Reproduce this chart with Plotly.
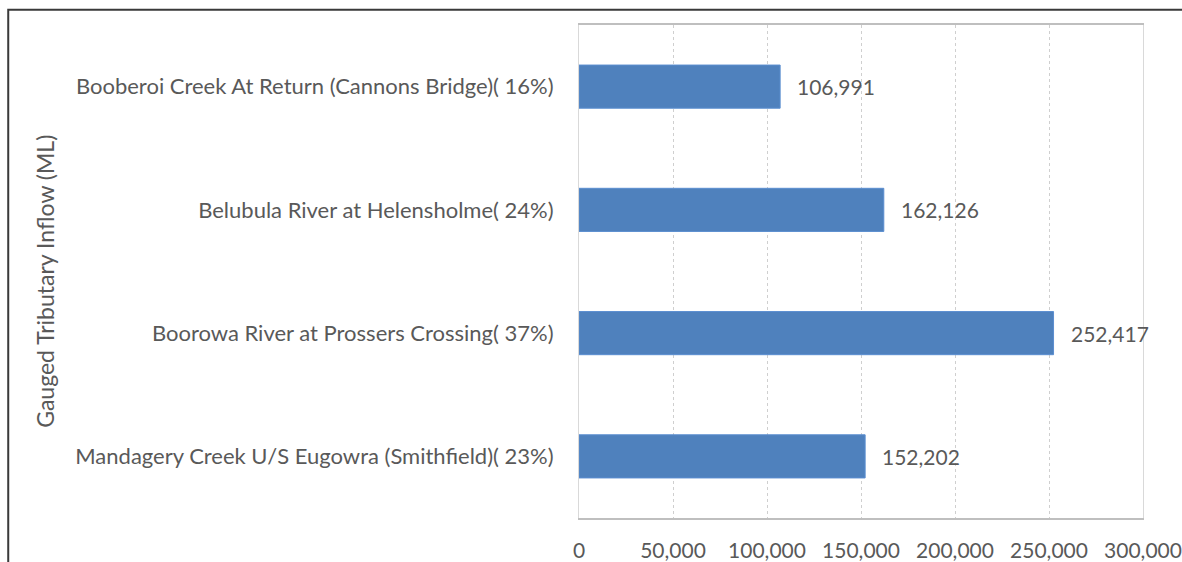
import plotly.graph_objects as go

# categories listed bottom-to-top, like the source chart
categories = [
    "Mandagery Creek U/S Eugowra (Smithfield)( 23%)",
    "Boorowa River at Prossers Crossing( 37%)",
    "Belubula River at Helensholme( 24%)",
    "Booberoi Creek At Return (Cannons Bridge)( 16%)",
]
inflow_ml = [152202, 252417, 162126, 106991]
x_ticks = [0, 50000, 100000, 150000, 200000, 250000, 300000]

font_color = "#595959"
font_family = "Lato, 'Open Sans', sans-serif"

fig = go.Figure()

fig.add_trace(
    go.Bar(
        x=inflow_ml,
        y=categories,
        orientation="h",
        width=0.35,
        marker=dict(color="#4f81bd", line=dict(color="#5b8ed0", width=1)),
        hoverinfo="x+y",
    )
)

# value labels to the right of each bar
for cat, val in zip(categories, inflow_ml):
    fig.add_annotation(
        x=val, y=cat, text=f"{val:,}", showarrow=False,
        xanchor="left", xshift=15,
        font=dict(size=21, color=font_color, family=font_family),
    )

# y axis title
fig.add_annotation(
    x=-0.946, y=0.48, xref="paper", yref="paper",
    xanchor="center", yanchor="middle",
    text="Gauged Tributary Inflow (ML)", textangle=-90, showarrow=False,
    font=dict(size=23, color=font_color, family=font_family),
)

# outer frame of the chart
fig.add_shape(
    type="rect", xref="paper", yref="paper",
    x0=-1.012, x1=1.1, y0=-0.2, y1=1.031,
    line=dict(color="#3a3a3a", width=2),
)

fig.update_layout(
    width=1182, height=562,
    margin=dict(l=579, r=39, t=25, b=44),
    plot_bgcolor="white", paper_bgcolor="white",
    showlegend=False,
    font=dict(family=font_family, color=font_color, size=21),
)

fig.update_xaxes(
    range=[0, 300000],
    tickvals=x_ticks,
    ticktext=[f"{v:,}" for v in x_ticks],
    showgrid=True, gridcolor="#cfcfcf", griddash="dot", gridwidth=1,
    showline=True, linecolor="#bfbfbf", linewidth=2, mirror=True,
    zeroline=False, ticks="", ticklabelstandoff=13, automargin=False,
    tickfont=dict(size=21, color=font_color),
)
fig.update_yaxes(
    categoryorder="array", categoryarray=categories,
    range=[-0.5, 3.5],
    showgrid=False, showline=True, linecolor="#d9d9d9", linewidth=1, mirror=True,
    ticks="", ticklabelstandoff=20, automargin=False,
    tickfont=dict(size=22, color=font_color),
)

# drop the browser's default page margin so the figure sits at the corner
fig.write_html(
    "out.html",
    config={"displayModeBar": False},
    post_script="document.body.style.margin='0';document.body.style.overflow='hidden';",
)
